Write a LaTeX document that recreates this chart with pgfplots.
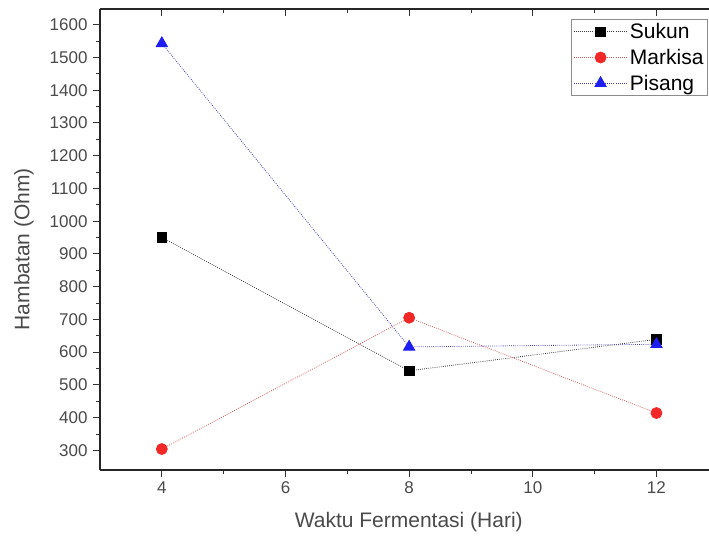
\documentclass[border=0pt]{standalone}
\usepackage{fontspec}
\setmainfont{Liberation Sans}
\usepackage{pgfplots}
\pgfplotsset{compat=1.18}
\definecolor{lsukun}{HTML}{383838}
\definecolor{lmark}{HTML}{D85858}
\definecolor{lpis}{HTML}{4040B8}
\definecolor{msukun}{HTML}{000000}
\definecolor{mmark}{HTML}{F02828}
\definecolor{mpis}{HTML}{1E1EF0}
\definecolor{txt}{HTML}{4A4A4A}
\begin{document}
\begin{tikzpicture}
\pgfplotsset{
  frame/.style={
    scale only axis,
    width=609pt, height=461pt,
    xmin=3, xmax=12.85,
    ymin=240, ymax=1648,
    axis line style={-, line width=1.1pt, black!85},
    every tick/.style={line width=0.9pt, black!80},
    major tick length=7pt, minor tick length=4pt,
  }
}
\begin{axis}[
  frame,
  name=ax,
  axis x line*=bottom, axis y line*=left,
  tick align=outside,
  xtick={4,6,8,10,12}, minor x tick num=1,
  ytick={300,400,...,1600}, minor y tick num=1,
  /pgf/number format/assume math mode=true,
  /pgf/number format/1000 sep={},
  xticklabel style={font=\fontsize{17}{20}\selectfont, text=txt, yshift=-1pt},
  yticklabel style={font=\fontsize{17}{20}\selectfont, text=txt, xshift=-2pt},
  xlabel={Waktu Fermentasi (Hari)},
  ylabel={Hambatan (Ohm)},
  every axis x label/.style={at={(axis description cs:0.507,-0.113)}, anchor=center,
    font=\fontsize{21}{24}\selectfont, text=txt},
  every axis y label/.style={at={(axis description cs:-0.1248,0.479)}, anchor=center, rotate=90,
    font=\fontsize{21}{24}\selectfont, text=txt},
  legend style={at={(0.998,0.978)}, anchor=north east, draw=black!45, line width=0.6pt,
    font=\fontsize{21}{23}\selectfont, fill=white, inner sep=2pt,
    row sep=5pt},
  legend cell align=left,
  legend image code/.code={%
    \draw[mark repeat=2,mark phase=2] plot coordinates {(0pt,0pt) (27pt,0pt) (54pt,0pt)};},
  every axis plot/.append style={line width=0.8pt, dash pattern=on 0.8pt off 1.3pt},
]
\addplot[color=lsukun, mark=square*, mark size=4.8pt, mark options={solid, fill=msukun, draw=msukun}]
  coordinates {(4,950) (8,543) (12,639)};
\addlegendentry{Sukun}
\addplot[color=lmark, mark=*, mark size=5.5pt, mark options={solid, fill=mmark, draw=mmark}]
  coordinates {(4,304) (8,705) (12,414)};
\addlegendentry{Markisa}
\addplot[color=lpis, mark=triangle*, mark size=6.5pt, mark options={solid, fill=mpis, draw=mpis}]
  coordinates {(4,1543) (8,616) (12,624)};
\addlegendentry{Pisang}
\coordinate (ll) at (rel axis cs:0,0);
\coordinate (ur) at (rel axis cs:1,1);
\end{axis}
\begin{axis}[
  frame,
  axis x line*=top, axis y line=none,
  tick align=inside,
  xtick={4,6,8,10,12}, minor x tick num=1,
  xticklabels={},
]
\end{axis}
\pgfresetboundingbox
\path[use as bounding box] ([xshift=-100pt,yshift=-70pt]ll) rectangle ([yshift=9pt]ur);
\end{tikzpicture}
\end{document}
